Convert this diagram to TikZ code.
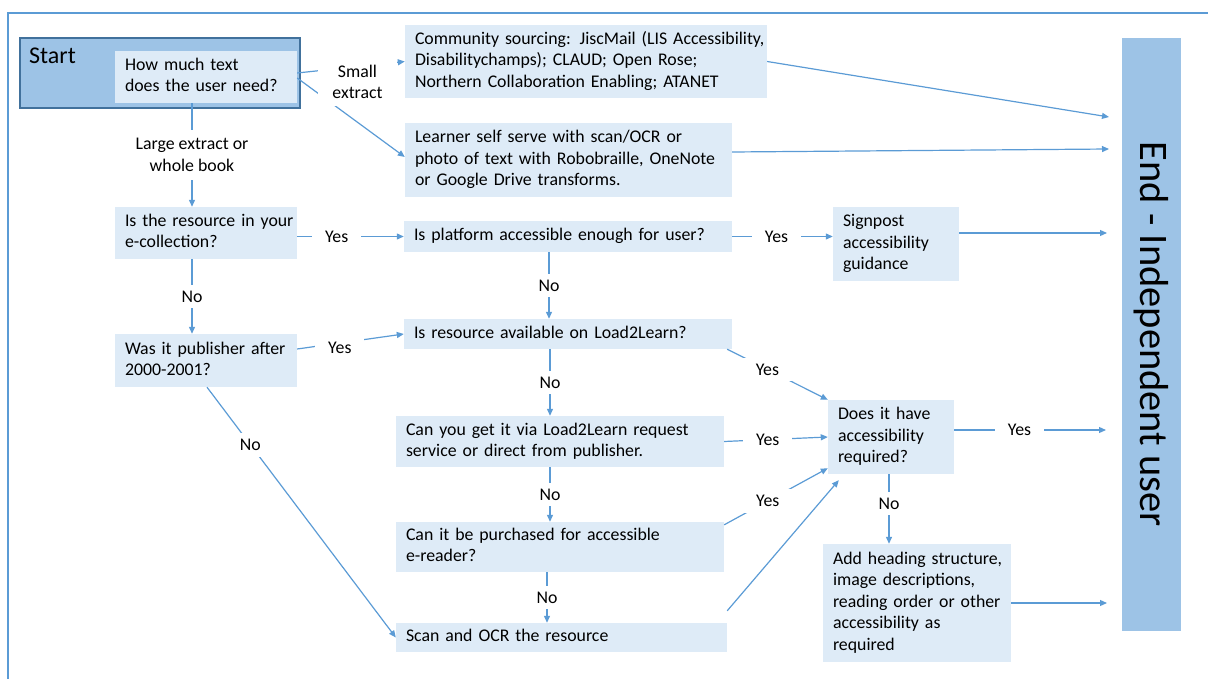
\documentclass[tikz,border=0pt]{standalone}
\usepackage{fontspec}
\setmainfont{Carlito}
\usetikzlibrary{arrows.meta,calc}
\definecolor{boxfill}{HTML}{DEEBF7}
\definecolor{darkfill}{HTML}{9DC3E6}
\definecolor{linec}{HTML}{5B9BD5}
\definecolor{startedge}{HTML}{41719C}
\newcommand\bodyfont{\fontsize{17.8pt}{21.4pt}\selectfont}
\newcommand\tl[1]{\begin{tabular}{@{}l@{}}#1\end{tabular}}
\begin{document}
\begin{tikzpicture}[x=1pt,y=-1pt,
  box/.style={fill=boxfill, inner xsep=10pt, inner ysep=0pt, align=left, font=\bodyfont},
  conn/.style={draw=linec, line width=1.2pt, -{Triangle[length=7pt,width=6pt]}},
  lbl/.style={fill=white, font=\bodyfont, inner xsep=13pt, inner ysep=6pt, text=black},
  frame/.style={draw=linec, line width=2pt}
]
\useasboundingbox (0,0) rectangle (1208,679);
\draw[frame] (8,679) -- (8,13) -- (1208,13);

% nodes
\node[fill=darkfill, draw=startedge, line width=1.5pt, minimum width=280pt, minimum height=70pt, inner sep=0] (start) at (160,73) {};
\node[anchor=base west, inner sep=0, font=\fontsize{24pt}{28pt}\selectfont] (startlbl) at (29,64) {Start};
\node[box, text width=162pt, minimum height=52pt] (q1) at (206,77) {\tl{How much text\\does the user need?}};
\node[box, text width=342pt, minimum height=73pt] (comm) at (586,61.5) {\tl{Community sourcing: JiscMail (LIS Accessibility,\\Disabilitychamps); CLAUD; Open Rose;\\Northern Collaboration Enabling; ATANET}};
\node[box, text width=307pt, minimum height=74pt] (learn) at (568.5,160) {\tl{Learner self serve with scan/OCR or\\photo of text with Robobraille, OneNote\\or Google Drive transforms.}};
\node[box, text width=162pt, minimum height=52pt] (q2) at (206,233) {\tl{Is the resource in your\\e-collection?}};
\node[box, text width=308pt, minimum height=31pt] (plat) at (568,236.5) {\tl{Is platform accessible enough for user?}};
\node[box, text width=106pt, minimum height=74pt] (sign) at (896,244) {\tl{Signpost\\accessibility\\guidance}};
\node[box, text width=162pt, minimum height=53pt] (q3) at (206,360.5) {\tl{Was it publisher after\\2000-2001?}};
\node[box, text width=308pt, minimum height=30pt] (l2l) at (568,334) {\tl{Is resource available on Load2Learn?}};
\node[box, text width=308pt, minimum height=51pt] (canget) at (560,441.5) {\tl{Can you get it via Load2Learn request\\service or direct from publisher.}};
\node[box, text width=308pt, minimum height=50pt] (purch) at (560,547) {\tl{Can it be purchased for accessible\\e-reader?}};
\node[box, text width=311pt, minimum height=29pt] (scan) at (561.5,637.5) {\tl{Scan and OCR the resource}};
\node[box, text width=106pt, minimum height=74pt] (does) at (891,437) {\tl{Does it have\\accessibility\\required?}};
\node[box, text width=168pt, minimum height=118pt] (add) at (917,603) {\tl{Add heading structure,\\image descriptions,\\reading order or other\\accessibility as\\required}};
\node[fill=darkfill, rotate=-90, minimum width=593pt, minimum height=59pt, inner sep=0, font=\fontsize{40.5pt}{48pt}\selectfont] (endbox) at (1151.5,334.5) {End - Independent user};

% arrow targets in front of the end box
\coordinate (t1) at (1109,117);
\coordinate (t2) at (1109,149);
\coordinate (t3) at (1107,233);
\coordinate (t4) at (1106,430);
\coordinate (t5) at (1107,603);

% connectors
\draw[conn] ([yshift=4pt]q1.east) -- (comm.west);
\draw[conn] ([yshift=-1pt]q1.east) -- ([yshift=3pt]learn.west);
\node[fill=white, font=\bodyfont, align=center, inner sep=0, minimum width=79pt, minimum height=48pt] (smallx) at (357.5,82) {Small\\extract};
\draw[conn] ([xshift=-14pt]q1.south) -- node[lbl, align=center, inner ysep=9pt] {Large extract or\\whole book} ([xshift=-14pt]q2.north);
\draw[conn] ([xshift=-14pt]q2.south) -- node[lbl] {No} ([xshift=-14pt]q3.north);
\draw[conn] (q2.east |- plat.west) -- node[lbl, pos=0.37] {Yes} (plat.west);
\draw[conn] (plat.east) -- node[lbl, pos=0.44] {Yes} (plat.east -| sign.west);
\draw[conn] (sign.east |- t3) -- (t3);
\draw[conn] (comm.east) -- (t1);
\draw[conn] ([yshift=8pt]learn.east) -- (t2);
\draw[conn] ([xshift=-19pt]plat.south) -- node[lbl] {No} ([xshift=-19pt]l2l.north);
\draw[conn] ([yshift=11.5pt]q3.east) -- node[lbl, pos=0.4, yshift=-5pt] {Yes} (l2l.west);
\draw[conn] ([xshift=-5pt]l2l.south east) -- node[lbl, pos=0.4] {Yes} (does.north west);
\draw[conn] ([xshift=-18pt]l2l.south) -- node[lbl] {No} ([xshift=-18pt]l2l.south |- canget.north);
\draw[conn] (canget.east) -- node[lbl, pos=0.42] {Yes} (does.west);
\draw[conn] ([xshift=-10pt]canget.south) -- node[lbl] {No} ([xshift=-10pt]purch.north);
\draw[conn] ([yshift=-3pt]purch.north east) -- node[lbl, pos=0.42] {Yes} ([yshift=6pt]does.south west);
\draw[conn] ([xshift=-13pt]purch.south) -- node[lbl] {No} ([xshift=-13pt]purch.south |- scan.north);
\draw[conn] ([yshift=12pt]scan.north east) -- ([xshift=11pt,yshift=-6pt]does.south west);
\draw[conn] ([xshift=1pt]q3.south) -- node[lbl, pos=0.23] {No} (scan.west);
\draw[conn] (does.east |- t4) -- node[lbl, pos=0.43] {Yes} (t4);
\draw[conn] ([xshift=-2pt]does.south) -- node[lbl, pos=0.42] {No} ([xshift=-2pt]does.south |- add.north);
\draw[conn] (add.east) -- (t5);
\end{tikzpicture}
\end{document}
